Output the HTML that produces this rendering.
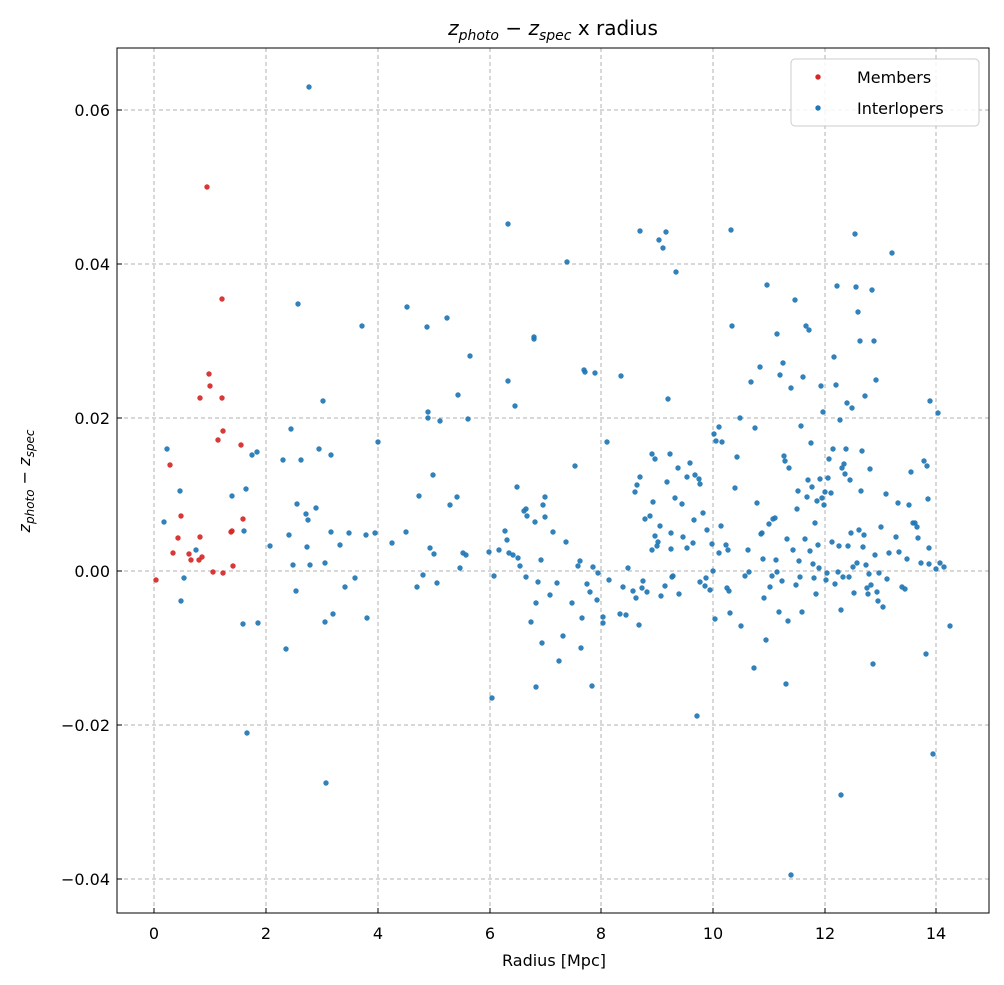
<!DOCTYPE html>
<html><head><meta charset="utf-8"><style>
body{margin:0;background:#fff;}
svg{display:block;font-family:"DejaVu Sans","Liberation Sans",sans-serif;}
</style></head><body>
<svg id="s" width="1004" height="985" xmlns="http://www.w3.org/2000/svg">
<rect width="1004" height="985" fill="#fff"/>
<g stroke="#b0b0b0" stroke-dasharray="4,3" stroke-width="1">
<line x1="154" y1="48" x2="154" y2="913"/><line x1="266" y1="48" x2="266" y2="913"/>
<line x1="378" y1="48" x2="378" y2="913"/><line x1="490" y1="48" x2="490" y2="913"/>
<line x1="601" y1="48" x2="601" y2="913"/><line x1="713" y1="48" x2="713" y2="913"/>
<line x1="825" y1="48" x2="825" y2="913"/><line x1="936" y1="48" x2="936" y2="913"/>
<line x1="117" y1="110" x2="989" y2="110"/><line x1="117" y1="264" x2="989" y2="264"/>
<line x1="117" y1="418" x2="989" y2="418"/><line x1="117" y1="571" x2="989" y2="571"/>
<line x1="117" y1="725" x2="989" y2="725"/><line x1="117" y1="879" x2="989" y2="879"/>
</g>
<g id="pts"></g>
<rect x="117" y="48" width="872" height="865" fill="none" stroke="#000" stroke-width="1"/>
<g stroke="#000" stroke-width="1">
<line x1="154" y1="913" x2="154" y2="908"/><line x1="266" y1="913" x2="266" y2="908"/>
<line x1="378" y1="913" x2="378" y2="908"/><line x1="490" y1="913" x2="490" y2="908"/>
<line x1="601" y1="913" x2="601" y2="908"/><line x1="713" y1="913" x2="713" y2="908"/>
<line x1="825" y1="913" x2="825" y2="908"/><line x1="936" y1="913" x2="936" y2="908"/>
<line x1="117" y1="110" x2="122" y2="110"/><line x1="117" y1="264" x2="122" y2="264"/>
<line x1="117" y1="418" x2="122" y2="418"/><line x1="117" y1="571" x2="122" y2="571"/>
<line x1="117" y1="725" x2="122" y2="725"/><line x1="117" y1="879" x2="122" y2="879"/>
</g>
<g font-size="16" fill="#000" text-anchor="middle">
<text x="154" y="939">0</text><text x="266" y="939">2</text><text x="378" y="939">4</text>
<text x="490" y="939">6</text><text x="601" y="939">8</text><text x="713" y="939">10</text>
<text x="825" y="939">12</text><text x="936" y="939">14</text>
<text x="554" y="966">Radius [Mpc]</text>
</g>
<g font-size="16" fill="#000" text-anchor="end">
<text x="110" y="116">0.06</text><text x="110" y="270">0.04</text><text x="110" y="424">0.02</text>
<text x="110" y="577">0.00</text><text x="110" y="731">−0.02</text><text x="110" y="885">−0.04</text>
</g>
<text x="553" y="35" font-size="20" text-anchor="middle"><tspan font-style="italic">z</tspan><tspan font-size="14" dy="5" font-style="italic">photo</tspan><tspan dy="-5"> − </tspan><tspan font-style="italic">z</tspan><tspan font-size="14" dy="5" font-style="italic">spec</tspan><tspan dy="-5"> x radius</tspan></text>
<text transform="translate(30,481) rotate(-90)" font-size="16" text-anchor="middle"><tspan font-style="italic">z</tspan><tspan font-size="12" dy="4" font-style="italic">photo</tspan><tspan dy="-4"> − </tspan><tspan font-style="italic">z</tspan><tspan font-size="12" dy="4" font-style="italic">spec</tspan></text>
<rect x="791" y="59" width="188" height="67" rx="4" fill="#fff" fill-opacity="0.85" stroke="#ccc"/>
<circle cx="818" cy="77" r="2.7" fill="#d62728"/>
<circle cx="818" cy="108" r="2.7" fill="#1f77b4"/>
<text x="857" y="83" font-size="16">Members</text>
<text x="857" y="114" font-size="16">Interlopers</text>
</svg>
<script>
var R=[[156,580],[170,465],[173,553],[178,538],[181,516],[189,554],[200,398],[200,537],[202,557],[207,187],[209,374],[210,386],[213,572],[218,440],[222,299],[222,398],[223,431],[223,573],[231,532],[232,531],[233,566],[241,445],[243,519],[199,560],[191,560]];
var B=[[164,522],[167,449],[180,491],[181,601],[184,578],[196,550],[232,496],[243,624],[244,531],[246,489],[247,733],[252,455],[257,452],[258,623],[270,546],[283,460],[286,649],[289,535],[291,429],[293,565],[296,591],[297,504],[298,304],[301,460],[306,514],[307,547],[308,520],[309,87],[310,565],[316,508],[319,449],[323,401],[325,563],[325,622],[326,783],[331,455],[331,532],[333,614],[340,545],[345,587],[349,533],[355,578],[362,326],[366,535],[367,618],[375,533],[378,442],[392,543],[406,532],[407,307],[417,587],[419,496],[423,575],[427,327],[428,412],[428,418],[430,548],[433,475],[434,554],[437,583],[440,421],[447,318],[450,505],[457,497],[458,395],[460,568],[463,553],[466,555],[468,419],[470,356],[489,552],[492,698],[494,576],[499,550],[505,531],[507,540],[508,224],[508,381],[509,553],[513,555],[515,406],[517,487],[518,558],[520,566],[524,511],[526,577],[526,509],[527,516],[531,622],[534,337],[534,339],[535,522],[536,603],[536,687],[538,582],[541,560],[542,643],[543,505],[545,497],[545,517],[550,595],[553,532],[557,583],[559,661],[563,636],[566,542],[567,262],[572,603],[575,466],[578,566],[580,561],[581,648],[582,618],[584,370],[585,372],[587,584],[590,592],[592,686],[593,567],[595,373],[597,600],[598,573],[603,617],[603,623],[607,442],[609,580],[620,614],[621,376],[623,587],[626,615],[628,568],[633,591],[635,492],[636,598],[637,485],[639,625],[640,477],[640,231],[642,588],[643,581],[645,519],[647,592],[650,516],[652,454],[652,550],[653,502],[655,459],[655,536],[657,546],[658,542],[659,240],[660,526],[661,596],[663,248],[665,586],[666,232],[667,482],[668,399],[670,454],[671,533],[671,549],[672,577],[673,576],[675,498],[676,272],[678,468],[679,594],[682,504],[683,537],[687,548],[687,477],[690,463],[693,543],[694,520],[695,475],[697,716],[699,479],[700,484],[700,582],[703,513],[705,586],[706,578],[707,530],[710,590],[712,544],[713,571],[714,434],[715,619],[716,441],[719,427],[719,553],[721,526],[722,442],[726,545],[727,588],[728,550],[729,591],[730,613],[732,326],[731,230],[735,488],[737,457],[740,418],[741,626],[745,576],[748,550],[749,572],[751,382],[754,668],[755,428],[757,503],[760,367],[761,534],[762,533],[763,559],[764,598],[766,640],[767,285],[769,524],[770,587],[772,576],[773,519],[775,518],[776,560],[777,334],[777,572],[779,612],[780,375],[782,581],[783,363],[784,456],[785,461],[786,684],[787,539],[788,621],[789,468],[791,388],[793,550],[795,300],[796,585],[797,509],[798,491],[799,561],[800,577],[801,426],[802,612],[803,377],[805,539],[806,326],[807,497],[808,480],[809,330],[810,551],[811,443],[812,487],[813,564],[814,578],[815,523],[816,594],[817,501],[818,545],[819,568],[820,479],[821,386],[822,498],[823,412],[824,505],[825,492],[826,580],[827,573],[828,478],[829,459],[831,493],[832,542],[833,449],[834,357],[835,584],[836,385],[837,286],[838,572],[839,546],[840,420],[841,610],[842,468],[843,577],[844,464],[845,474],[846,449],[847,403],[848,546],[849,577],[850,480],[851,533],[852,408],[853,567],[854,593],[855,234],[856,287],[857,563],[858,312],[859,530],[860,341],[861,491],[862,451],[863,547],[864,535],[865,396],[866,565],[867,588],[868,594],[869,574],[870,469],[871,585],[872,290],[873,664],[874,341],[875,555],[876,380],[877,592],[878,601],[879,573],[881,527],[883,607],[886,494],[887,579],[889,553],[892,253],[896,537],[898,503],[899,552],[902,587],[905,589],[907,559],[909,505],[911,472],[913,523],[915,523],[917,527],[918,538],[921,563],[924,461],[926,654],[927,466],[928,499],[929,548],[929,564],[930,401],[933,754],[936,569],[938,413],[940,563],[944,567],[950,626],[791,875],[841,795]];
var g=document.getElementById('pts'),h='';
B.forEach(function(p){h+='<circle cx="'+p[0]+'" cy="'+p[1]+'" r="2.7" fill="#1f77b4" fill-opacity="0.92"/>';});
R.forEach(function(p){h+='<circle cx="'+p[0]+'" cy="'+p[1]+'" r="2.7" fill="#d62728" fill-opacity="0.92"/>';});
g.innerHTML=h;
</script>
</body></html>
